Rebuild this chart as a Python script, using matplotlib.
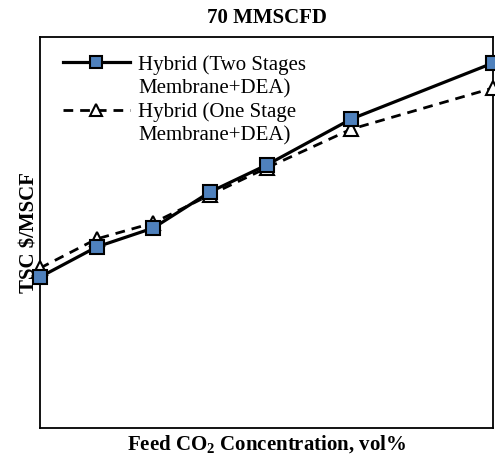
import matplotlib
matplotlib.use("Agg")
import matplotlib.pyplot as plt
from matplotlib.lines import Line2D

plt.rcParams["font.family"] = ["Liberation Serif", "DejaVu Serif"]
plt.rcParams["mathtext.fontset"] = "custom"
plt.rcParams["mathtext.rm"] = "Liberation Serif"
plt.rcParams["mathtext.bf"] = "Liberation Serif:bold"
plt.rcParams["lines.scale_dashes"] = False

# feed CO2 concentration, vol%
co2 = [10, 15, 20, 25, 30, 37.5, 50]
# TSC $/MSCF (no tick labels on the original, relative values)
two_stage = [0.772, 0.926, 1.023, 1.207, 1.345, 1.581, 1.867]
one_stage = [0.818, 0.967, 1.049, 1.192, 1.330, 1.529, 1.739]

fig = plt.figure(figsize=(4.95, 4.58), dpi=100)
ax = fig.add_axes([40 / 495, 30 / 458, 453 / 495, 391 / 458])

ax.plot(co2, one_stage, color="black", lw=2.0, linestyle=(0, (7, 5)),
        marker="^", markersize=10, markerfacecolor="white",
        markeredgecolor="black", markeredgewidth=1.5, clip_on=False, zorder=3)
ax.plot(co2, two_stage, color="black", lw=2.3, linestyle="-",
        marker="s", markersize=10, markerfacecolor="#4F81BD",
        markeredgecolor="black", markeredgewidth=1.5, clip_on=False, zorder=4)

ax.set_xlim(10, 50)
ax.set_ylim(0, 2)
ax.set_xticks([])
ax.set_yticks([])
for sp in ax.spines.values():
    sp.set_linewidth(1.3)

ax.set_title("70 MMSCFD", fontsize=15, fontweight="bold", pad=10)
ax.set_xlabel("Feed CO$_\\mathbf{2}$ Concentration, vol%", fontsize=15,
              fontweight="bold", labelpad=4)
ax.set_ylabel("TSC $/MSCF", fontsize=15, fontweight="bold", labelpad=0)

# legend: handles aligned with the first line of each two-line label
blank = Line2D([], [], linestyle="none")
h1 = Line2D([], [], color="black", lw=2.3, marker="s", markersize=8,
            markerfacecolor="#4F81BD", markeredgecolor="black", markeredgewidth=1.5)
h2 = Line2D([], [], color="black", lw=2.0, linestyle=(0, (7, 5)), marker="^",
            markersize=8, markerfacecolor="white", markeredgecolor="black",
            markeredgewidth=1.5)
ax.legend([h1, blank, h2, blank],
          ["Hybrid (Two Stages", "Membrane+DEA)", "Hybrid (One Stage", "Membrane+DEA)"],
          loc="upper left", bbox_to_anchor=(0.013, 0.997), frameon=False,
          fontsize=15, handlelength=3.25, handletextpad=0.38, labelspacing=0.2,
          borderpad=0.3)

fig.savefig("out.png", dpi=100)
